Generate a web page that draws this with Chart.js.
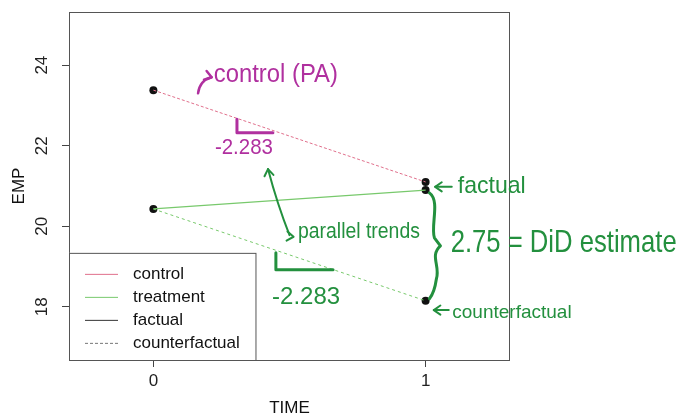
<!DOCTYPE html>
<html><head><meta charset="utf-8">
<script src="https://cdn.jsdelivr.net/npm/chart.js@4/dist/chart.umd.min.js"></script>
<style>html,body{margin:0;padding:0;background:#fff}#wrap{width:678px;height:420px}</style>
</head><body><div id="wrap"><canvas id="c" width="678" height="420"></canvas></div>
<script>
const TIME = [0, 1];
const CONTROL = [23.38, 21.10];
const TREATMENT = [20.43, 20.90];
const COUNTERFACTUAL = [20.43, 18.15];
const X_TICKS = [0, 1];
const Y_TICKS = [18, 20, 22, 24];
const LEGEND_LABELS = ['control', 'treatment', 'factual', 'counterfactual'];
const DID = 2.75, SLOPE = -2.283;

const PINK = '#E0708C', LGREEN = '#78C96C', MAG = '#B0309F', DGREEN = '#23903E';
const FONT = "'Liberation Sans', Arial, sans-serif";

const pts = (ys) => TIME.map((t, i) => ({x: t, y: ys[i]}));
const allPts = [...pts(CONTROL), ...pts(TREATMENT), {x: TIME[1], y: COUNTERFACTUAL[1]}];

const legendStyles = [
  {color: PINK, dash: []}, {color: LGREEN, dash: []},
  {color: '#333', dash: []}, {color: '#777', dash: [3, 2]}
];

const overlay = {
  id: 'overlay',
  afterDraw(chart) {
    const ctx = chart.ctx, a = chart.chartArea;
    const xs = chart.scales.x, ys = chart.scales.y;
    const P = (x, y) => [xs.getPixelForValue(x), ys.getPixelForValue(y)];
    ctx.save();
    // box
    ctx.strokeStyle = '#555'; ctx.lineWidth = 1; ctx.setLineDash([]);
    ctx.strokeRect(a.left + 0.5, a.top + 0.5, a.right - a.left - 1, a.bottom - a.top);
    // legend
    const lx0 = a.left, ly0 = ys.getPixelForValue(19.34), lx1 = xs.getPixelForValue(0.375);
    ctx.fillStyle = '#fff';
    ctx.fillRect(lx0, ly0, lx1 - lx0, a.bottom - ly0);
    ctx.strokeStyle = '#555';
    ctx.strokeRect(lx0 + 0.5, ly0 + 0.5, lx1 - lx0, a.bottom - ly0);
    ctx.font = '17px ' + FONT; ctx.textBaseline = 'middle'; ctx.textAlign = 'left';
    LEGEND_LABELS.forEach((lab, i) => {
      const yy = ly0 + 21 + i * 23;
      ctx.strokeStyle = legendStyles[i].color; ctx.setLineDash(legendStyles[i].dash);
      ctx.lineWidth = 1;
      ctx.beginPath(); ctx.moveTo(lx0 + 16, yy + 0.5); ctx.lineTo(lx0 + 49, yy + 0.5); ctx.stroke();
      ctx.fillStyle = '#111'; ctx.fillText(lab, lx0 + 64, yy);
    });
    ctx.setLineDash([]);
    // handwritten-style annotations
    ctx.lineCap = 'round'; ctx.lineJoin = 'round';
    const txt = (s, x, y, size, color, maxW) => {
      const [px, py] = P(x, y);
      ctx.font = size + 'px ' + FONT; ctx.fillStyle = color;
      ctx.textAlign = 'left'; ctx.textBaseline = 'middle';
      ctx.fillText(s, px, py, maxW);
    };
    const poly = (arr, color, w) => {
      ctx.strokeStyle = color; ctx.lineWidth = w; ctx.beginPath();
      arr.forEach((p, i) => { const [px, py] = P(p[0], p[1]); i ? ctx.lineTo(px, py) : ctx.moveTo(px, py); });
      ctx.stroke();
    };
    const curve = (p0, c, p1, color, w) => {
      const a0 = P(...p0), cc = P(...c), a1 = P(...p1);
      ctx.strokeStyle = color; ctx.lineWidth = w; ctx.beginPath();
      ctx.moveTo(...a0); ctx.quadraticCurveTo(...cc, ...a1); ctx.stroke();
    };
    const head = (tip, dx, dy, color, w) => {
      const [tx, ty] = P(...tip);
      const ang = Math.atan2(dy, dx);
      ctx.strokeStyle = color; ctx.lineWidth = w; ctx.beginPath();
      ctx.moveTo(tx - 8 * Math.cos(ang - 0.6), ty - 8 * Math.sin(ang - 0.6));
      ctx.lineTo(tx, ty);
      ctx.lineTo(tx - 8 * Math.cos(ang + 0.6), ty - 8 * Math.sin(ang + 0.6));
      ctx.stroke();
    };
    // magenta: control (PA)
    curve([0.164, 23.30], [0.170, 23.62], [0.214, 23.70], MAG, 2.5);
    head([0.214, 23.70], 1, 0.3, MAG, 2.5);
    txt('control (PA)', 0.222, 23.76, 26, MAG, 124);
    poly([[0.307, 22.66], [0.307, 22.32], [0.439, 22.32]], MAG, 3);
    txt(SLOPE.toFixed(3), 0.226, 21.94, 22, MAG, 58);
    // green: parallel trends arrow
    curve([0.421, 21.42], [0.455, 20.55], [0.500, 19.78], DGREEN, 2);
    head([0.421, 21.42], -0.15, -1, DGREEN, 2);
    head([0.515, 19.74], 1, 0.1, DGREEN, 2);
    txt('parallel trends', 0.531, 19.86, 22, DGREEN, 122);
    poly([[0.450, 19.34], [0.450, 18.92], [0.660, 18.92]], DGREEN, 3);
    txt(SLOPE.toFixed(3), 0.436, 18.24, 24, DGREEN, 72);
    // curly brace
    {
      const x0 = 1.025, top = 20.83, bot = 18.20, mid = (top + bot) / 2;
      const [bx, bt] = P(x0, top), [, bb] = P(x0, bot), [, bm] = P(x0, mid);
      ctx.strokeStyle = DGREEN; ctx.lineWidth = 3; ctx.beginPath();
      ctx.moveTo(bx - 3, bt);
      ctx.bezierCurveTo(bx + 8, bt + 8, bx - 2, bm - 20, bx + 2, bm - 8);
      ctx.lineTo(bx + 8, bm);
      ctx.moveTo(bx + 8, bm);
      ctx.bezierCurveTo(bx - 3, bm + 10, bx + 8, bm + 20, bx + 4, bb - 20);
      ctx.quadraticCurveTo(bx + 2, bb - 6, bx - 3, bb);
      ctx.stroke();
    }
    txt(DID.toFixed(2) + ' = DiD estimate', 1.092, 19.585, 32, DGREEN, 226);
    // factual / counterfactual labels
    poly([[1.035, 20.98], [1.096, 20.98]], DGREEN, 2);
    head([1.035, 20.98], -1, 0, DGREEN, 2);
    txt('factual', 1.118, 21.00, 24, DGREEN, 68);
    poly([[1.030, 17.92], [1.085, 17.92]], DGREEN, 2);
    head([1.030, 17.92], -1, 0, DGREEN, 2);
    txt('counterfactual', 1.098, 17.86, 19, DGREEN, 124);
    ctx.restore();
  }
};

new Chart(document.getElementById('c'), {
  type: 'scatter',
  data: {
    datasets: [
      {label: 'control', data: pts(CONTROL), showLine: true, borderColor: PINK, borderWidth: 1, borderDash: [3, 2], pointRadius: 0},
      {label: 'treatment', data: pts(TREATMENT), showLine: true, borderColor: LGREEN, borderWidth: 1.2, pointRadius: 0},
      {label: 'counterfactual', data: pts([TREATMENT[0], COUNTERFACTUAL[1]]), showLine: true, borderColor: LGREEN, borderWidth: 1, borderDash: [3, 3], pointRadius: 0},
      {label: 'points', data: allPts, showLine: false, pointRadius: 4, pointBackgroundColor: '#111', pointBorderColor: '#111', pointBorderWidth: 0}
    ]
  },
  options: {
    responsive: false, animation: false, devicePixelRatio: 1,
    layout: {padding: {left: 0, top: 12, right: 168, bottom: 0}},
    plugins: {legend: {display: false}, tooltip: {enabled: false}},
    scales: {
      x: {
        type: 'linear', min: -0.31, max: 1.31,
        afterBuildTicks: s => { s.ticks = X_TICKS.map(v => ({value: v})); },
        afterFit: s => { s.height = 60; s.paddingLeft = 0; s.paddingRight = 0; },
        grid: {display: true, drawOnChartArea: false, drawTicks: true, tickLength: 7, color: '#444'},
        border: {display: false},
        ticks: {color: '#222', font: {size: 17, family: FONT}, padding: 4, maxRotation: 0},
        title: {display: true, text: 'TIME', color: '#111', font: {size: 17, family: FONT}, padding: {top: 0, bottom: 1}}
      },
      y: {
        type: 'linear', min: 16.68, max: 25.32,
        afterBuildTicks: s => { s.ticks = Y_TICKS.map(v => ({value: v})); },
        afterFit: s => { s.width = 69; s.paddingTop = 0; s.paddingBottom = 0; },
        grid: {display: true, drawOnChartArea: false, drawTicks: true, tickLength: 7, color: '#444'},
        border: {display: false},
        ticks: {color: '#222', font: {size: 17, family: FONT}, padding: 10, minRotation: 90, maxRotation: 90, crossAlign: 'center'},
        title: {display: true, text: 'EMP', color: '#111', font: {size: 17, family: FONT}, padding: {top: 9, bottom: 0}}
      }
    }
  },
  plugins: [overlay]
});
</script></body></html>
